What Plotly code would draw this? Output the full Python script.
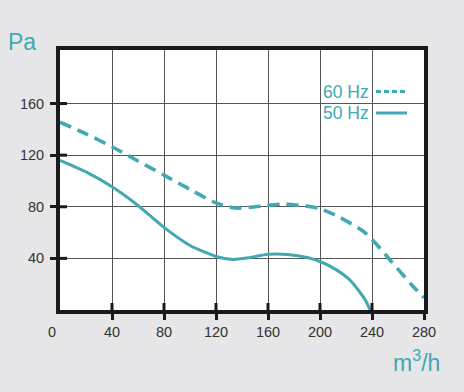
import plotly.graph_objects as go

# Data
flow_60 = [0, 20, 40, 60, 80, 100, 120, 135, 150, 170, 190, 200, 215, 235, 255, 270, 280]
pa_60 = [145.5, 136.5, 126.5, 115.5, 104.5, 93.5, 83, 79, 80, 82, 80.5, 78.5, 72, 59.6, 37.5, 20, 9.5]

flow_50 = [0, 20, 40, 60, 80, 100, 120, 133, 145, 160, 175, 191, 201, 212, 222.5, 230, 235.3, 238.5]
pa_50 = [116, 107, 95.5, 81, 64, 50, 41.5, 39.2, 40.5, 43.2, 43.1, 40.5, 37.2, 31.5, 23.7, 14.7, 6.9, 0]

x_ticks = [40, 80, 120, 160, 200, 240, 280]
y_ticks = [40, 80, 120, 160]
series_names = ["60 Hz", "50 Hz"]

TEAL = "#40a9b1"
FONT = "Arial, Liberation Sans, Helvetica, sans-serif"

fig = go.Figure()
fig.add_trace(go.Scatter(x=flow_60, y=pa_60, mode="lines", name=series_names[0],
                         line=dict(color=TEAL, width=3.6, dash="12px,7px", shape="spline", smoothing=0.7)))
fig.add_trace(go.Scatter(x=flow_50, y=pa_50, mode="lines", name=series_names[1],
                         line=dict(color=TEAL, width=3, shape="spline", smoothing=0.6)))

L, R, T, B = 60, 424, 50, 310
W, H = 464, 392

fig.update_layout(
    width=W, height=H,
    margin=dict(l=L, r=W - R, t=T, b=H - B, pad=0),
    paper_bgcolor="#e6e6e8",
    plot_bgcolor="white",
    showlegend=False,
    font=dict(family=FONT, size=14, color="#333333"),
    xaxis=dict(range=[0, 280], tickvals=x_ticks, showgrid=True, gridcolor="#555555", gridwidth=1.2,
               zeroline=False, showline=True, linecolor="#1a1a1a", linewidth=4, mirror=True,
               ticks="outside", ticklen=6, tickwidth=3, tickcolor="#1a1a1a",
               tickfont=dict(size=14.5, color="#333333")),
    yaxis=dict(range=[0, 201.5], tickvals=y_ticks, showgrid=True, gridcolor="#555555", gridwidth=1.2,
               zeroline=False, showline=True, linecolor="#1a1a1a", linewidth=4, mirror=True,
               ticks="outside", ticklen=6, tickwidth=3, tickcolor="#1a1a1a",
               ticklabelstandoff=3,
               tickfont=dict(size=14.5, color="#333333")),
)

# inner tick stubs (ticks cross the axis line)
pw, ph = R - L, B - T
for v in y_ticks:
    fig.add_shape(type="line", xref="x domain", yref="y", x0=0, x1=7 / pw, y0=v, y1=v,
                  line=dict(color="#1a1a1a", width=3))
for v in x_ticks[:-1]:
    fig.add_shape(type="line", xref="x", yref="y domain", x0=v, x1=v, y0=0, y1=7 / ph,
                  line=dict(color="#1a1a1a", width=3))

# "0" label on x axis
fig.add_annotation(text="0", xref="x", yref="y domain", x=0, y=0, xshift=-8, yshift=-12,
                   showarrow=False, yanchor="top", font=dict(size=14.5, color="#333333"))

# axis titles
fig.add_annotation(text="Pa", xref="paper", yref="paper", x=-L / pw + 6 / pw, y=1 + 8 / ph,
                   xanchor="left", yanchor="middle", showarrow=False,
                   font=dict(size=23, color=TEAL))
fig.add_annotation(text="m<sup>3</sup>/h", xref="paper", yref="paper", x=(442 - L) / pw, y=-(361 - B) / ph,
                   xanchor="right", yanchor="middle", showarrow=False,
                   font=dict(size=23, color=TEAL))

# legend (text on left, sample line on right)
leg_y = [91.5, 113]
dashes = ["5px,3px", "solid"]
for name, yy, d in zip(series_names, leg_y, dashes):
    fig.add_annotation(text=name, xref="paper", yref="paper", x=(371 - L) / pw, y=(B - yy) / ph,
                       xanchor="right", yanchor="middle", showarrow=False,
                       font=dict(size=17.5, color=TEAL))
    fig.add_shape(type="line", xref="paper", yref="paper", x0=(376 - L) / pw, x1=(407 - L) / pw,
                  y0=(B - yy) / ph, y1=(B - yy) / ph, line=dict(color=TEAL, width=3, dash=d))

fig.write_html("out.html", config={"displayModeBar": False},
               post_script="document.body.style.margin='0';")
